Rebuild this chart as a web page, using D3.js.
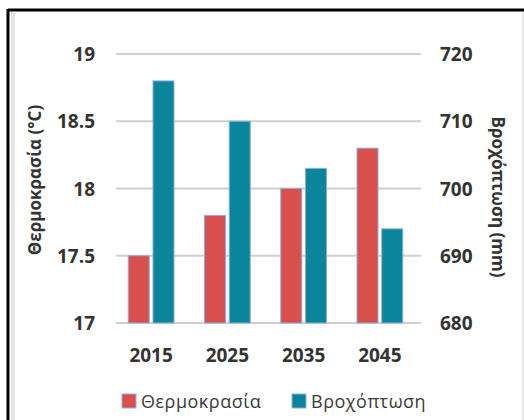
<!DOCTYPE html>
<html>
<head>
<meta charset="utf-8">
<script src="https://cdn.jsdelivr.net/npm/d3@7"></script>
<style>
    body { margin: 0; background: #fff; }
    svg text { font-family: "Open Sans", sans-serif; fill: #333; }
    .tick-label { font-size: 19px; font-weight: 700; }
    .axis-title { font-size: 17px; font-weight: 700; }
    .legend-text { font-size: 18px; letter-spacing: 0.5px; fill: #3a3a3a; }
</style>
</head>
<body>
<div id="chart"></div>
<script>

// chart data
let years = ["2015", "2025", "2035", "2045"];
let temperature = [17.5, 17.8, 18.0, 18.3];
let rainfall = [716, 710, 703, 694];
let tempTicks = [17, 17.5, 18, 18.5, 19];
let rainTicks = [680, 690, 700, 710, 720];
let seriesNames = ["Θερμοκρασία", "Βροχόπτωση"];
let seriesColors = ["#d94f4b", "#0a859b"];

let width = 524, height = 420;
let plot = {left: 116, right: 421, top: 54, bottom: 323};

let svg = d3.select("#chart").append("svg")
    .attr("width", width)
    .attr("height", height);

// frame: thick black top/left edge with soft grey inner shade
svg.append("rect").attr("x", 0).attr("y", 0).attr("width", width).attr("height", height).attr("fill", "#fff");
svg.append("line").attr("x1", 8).attr("x2", width).attr("y1", 10).attr("y2", 10)
    .attr("stroke", "#000").attr("stroke-width", 3);
svg.append("line").attr("x1", 8).attr("x2", 8).attr("y1", 9).attr("y2", height)
    .attr("stroke", "#000").attr("stroke-width", 3);
svg.append("rect").attr("x", 11).attr("y", 12).attr("width", 4).attr("height", height)
    .attr("fill", "#e4e4e4");
svg.append("line").attr("x1", width - 1).attr("x2", width - 1).attr("y1", 12).attr("y2", height)
    .attr("stroke", "#e8e8e8").attr("stroke-width", 2);

// scales
let yLeft = d3.scaleLinear().domain([17, 19]).range([plot.bottom, plot.top]);
let yRight = d3.scaleLinear().domain([680, 720]).range([plot.bottom, plot.top]);

let x = d3.scaleBand()
    .domain(years)
    .range([plot.left - 3, plot.right - 3])
    .paddingInner(0.4)
    .paddingOuter(0.2);

let xSub = d3.scaleBand()
    .domain([0, 1])
    .range([0, x.bandwidth()])
    .paddingInner(0.15);

// gridlines
svg.selectAll(".grid")
    .data(tempTicks)
    .enter()
    .append("line")
    .attr("class", "grid")
    .attr("x1", plot.left)
    .attr("x2", plot.right)
    .attr("y1", d => yLeft(d))
    .attr("y2", d => yLeft(d))
    .attr("stroke", "#cfcfcf")
    .attr("stroke-width", 2);

// left tick labels
svg.selectAll(".lTick")
    .data(tempTicks)
    .enter()
    .append("text")
    .attr("class", "tick-label")
    .attr("x", 95)
    .attr("y", d => yLeft(d) + 7)
    .attr("text-anchor", "end")
    .text(d => d);

// right tick labels
svg.selectAll(".rTick")
    .data(rainTicks)
    .enter()
    .append("text")
    .attr("class", "tick-label")
    .attr("x", 440)
    .attr("y", d => yRight(d) + 7)
    .text(d => d);

// x labels
svg.selectAll(".xTick")
    .data(years)
    .enter()
    .append("text")
    .attr("class", "tick-label")
    .attr("x", d => x(d) + x.bandwidth() / 2)
    .attr("y", 362)
    .attr("text-anchor", "middle")
    .text(d => d);

// bars
let bars = [];
years.forEach((y, i) => {
    bars.push({year: y, s: 0, top: yLeft(temperature[i])});
    bars.push({year: y, s: 1, top: yRight(rainfall[i])});
});

svg.selectAll(".bar")
    .data(bars)
    .enter()
    .append("rect")
    .attr("class", "bar")
    .attr("x", d => x(d.year) + xSub(d.s))
    .attr("y", d => d.top)
    .attr("width", xSub.bandwidth())
    .attr("height", d => plot.bottom - d.top)
    .attr("fill", d => seriesColors[d.s])
    .attr("stroke", "#8fb0dc")
    .attr("stroke-width", 1);

// axis titles
svg.append("text")
    .attr("class", "axis-title")
    .attr("transform", "translate(41,180) rotate(-90)")
    .attr("text-anchor", "middle")
    .text("Θερμοκρασία (°C)");

svg.append("text")
    .attr("class", "axis-title")
    .attr("transform", "translate(492,197) rotate(90)")
    .attr("text-anchor", "middle")
    .text("Βροχόπτωση (mm)");

// legend
let legendX = [122, 292];
let legend = svg.selectAll(".legend")
    .data(seriesNames)
    .enter()
    .append("g")
    .attr("transform", (d, i) => `translate(${legendX[i]}, 394)`);

legend.append("rect")
    .attr("width", 14)
    .attr("height", 14)
    .attr("fill", (d, i) => seriesColors[i])
    .attr("stroke", "#8fb0dc");

legend.append("text")
    .attr("class", "legend-text")
    .attr("x", 19)
    .attr("y", 14)
    .text(d => d);

</script>
</body>
</html>
